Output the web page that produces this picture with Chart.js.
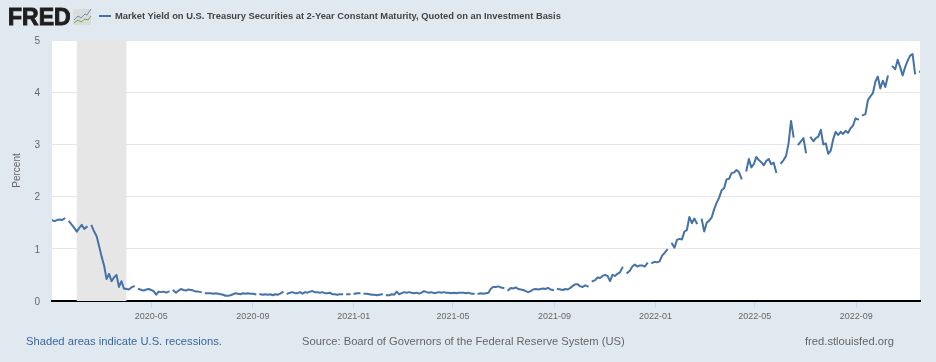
<!DOCTYPE html>
<html>
<head>
<meta charset="utf-8">
<title>Market Yield on U.S. Treasury Securities at 2-Year Constant Maturity</title>
<script src="https://cdn.jsdelivr.net/npm/chart.js@4"></script>
<style>
html, body { margin: 0; padding: 0; background: #e1e9f0; }
body { position: relative; width: 936px; height: 362px; overflow: hidden; font-family: "Liberation Sans", Arial, sans-serif; }
canvas { position: absolute; left: 0; top: 0; }
.abs { position: absolute; white-space: nowrap; }
#logo { left: 8px; top: 2px; font-size: 23px; line-height: 30px; font-weight: bold; color: #1f1d1e; -webkit-text-stroke: 0.9px #1f1d1e; }
#logoIcon { left: 73px; top: 8px; }
#legendLine { left: 99px; top: 15px; width: 12px; height: 2px; background: #4572a7; }
#legendText { left: 115px; top: 10px; font-size: 9.35px; line-height: 13px; font-weight: bold; color: #444; }
.foot { top: 334px; font-size: 11.2px; line-height: 14px; color: #666; }
</style>
</head>
<body>
<canvas id="yieldChart" width="936" height="362"></canvas>
<div class="abs" id="logo">FRED</div>
<svg class="abs" id="logoIcon" width="19" height="18" viewBox="0 0 19 18">
  <rect x="0" y="1" width="18" height="16" rx="1.5" fill="#d9dcdc"/>
  <polyline points="1,12 5,8 8,10 12,6 14,7 18,1" fill="none" stroke="#6f8fb5" stroke-width="1"/>
  <polyline points="1,15 5,12 8,14 12,11 15,12 18,8" fill="none" stroke="#7fa04f" stroke-width="1"/>
</svg>
<div class="abs" id="legendLine"></div>
<div class="abs" id="legendText">Market Yield on U.S. Treasury Securities at 2-Year Constant Maturity, Quoted on an Investment Basis</div>
<div class="abs foot" style="left:26px;color:#3a659f">Shaded areas indicate U.S. recessions.</div>
<div class="abs foot" style="left:302px">Source: Board of Governors of the Federal Reserve System (US)</div>
<div class="abs foot" style="left:805px">fred.stlouisfed.org</div>

<script>
// one reading every 3 days, starting at dataStart. null = gap in the series
const dataStart = '2020-01-02';
const dataEnd = '2022-11-17';
const stepDays = 3;

const yields = [
    1.55, 1.53, 1.55, 1.56, 1.55, 1.58, null, 1.52, 1.46, 1.40,
    1.33, 1.40, 1.46, 1.38, 1.42, null, 1.44, 1.33, 1.24, 1.05,
    0.85, 0.68, 0.42, 0.52, 0.38, 0.45, 0.50, 0.27, 0.38, 0.24,
    0.23, 0.22, 0.26, 0.28, null, 0.23, 0.21, 0.20, 0.22, 0.23,
    0.21, 0.19, 0.12, 0.18, 0.17, 0.18, 0.16, 0.18, null, 0.20,
    0.16, 0.20, 0.23, 0.21, 0.20, 0.22, 0.21, 0.20, 0.18, 0.18,
    0.17, null, 0.15, 0.15, 0.15, 0.14, 0.15, 0.14, 0.13, 0.12,
    0.10, 0.10, 0.11, 0.13, 0.15, 0.14, 0.13, 0.15, 0.14, 0.15,
    0.14, 0.14, 0.13, null, 0.13, 0.12, 0.13, 0.12, 0.13, 0.11,
    0.13, 0.12, 0.14, 0.17, null, 0.14, 0.16, 0.17, 0.15, 0.15,
    0.17, 0.14, 0.17, 0.16, 0.18, 0.19, 0.17, 0.17, 0.16, 0.17,
    0.15, 0.15, 0.16, 0.13, 0.13, 0.12, 0.13, 0.13, null, 0.13,
    0.13, null, 0.14, 0.15, 0.15, null, 0.14, 0.14, 0.13, 0.12,
    0.12, 0.11, 0.12, 0.13, null, 0.11, 0.11, 0.13, 0.12, 0.18,
    0.13, 0.15, 0.17, 0.16, 0.17, 0.16, 0.15, 0.16, 0.14, 0.16,
    0.19, 0.17, 0.16, 0.17, 0.15, 0.16, 0.17, 0.16, 0.17, 0.16,
    0.16, 0.15, 0.16, 0.15, 0.16, 0.16, 0.16, 0.15, 0.16, 0.14,
    0.14, null, 0.14, 0.15, 0.14, 0.15, 0.16, 0.24, 0.27, 0.27,
    0.28, 0.26, 0.25, null, 0.21, 0.25, 0.24, 0.26, 0.23, 0.22,
    0.21, 0.19, 0.17, 0.19, 0.22, 0.23, 0.22, 0.23, 0.24, 0.23,
    0.25, 0.22, 0.21, null, 0.23, 0.22, 0.21, 0.23, 0.22, 0.25,
    0.29, 0.32, 0.32, 0.28, 0.27, 0.30, 0.28, null, 0.38, 0.40,
    0.45, 0.44, 0.48, 0.50, 0.48, 0.38, 0.50, 0.48, 0.52, 0.55,
    0.64, null, 0.54, 0.58, 0.66, 0.70, 0.66, 0.68, 0.68, 0.66,
    0.72, null, 0.73, 0.75, 0.74, 0.76, 0.87, 0.92, 0.98, null,
    1.10, 1.02, 1.17, 1.19, 1.18, 1.33, 1.36, 1.61, 1.49, 1.58,
    1.49, null, 1.56, 1.33, 1.50, 1.54, 1.60, 1.76, 1.88, 1.98,
    2.12, 2.16, 2.33, 2.34, 2.45, 2.46, 2.51, 2.47, 2.35, null,
    2.50, 2.72, 2.56, 2.62, 2.76, 2.70, 2.66, 2.60, 2.68, 2.72,
    2.62, 2.65, 2.47, null, 2.64, 2.70, 2.78, 3.02, 3.45, 3.15,
    null, 3.00, 3.06, 3.12, 2.85, null, 3.13, 3.06, 3.12, 3.15,
    3.28, 3.00, 3.02, 2.82, 2.88, 3.10, 3.24, 3.18, 3.24, 3.20,
    3.26, 3.22, 3.31, 3.36, 3.50, 3.48, null, 3.56, 3.58, 3.85,
    3.92, 3.98, 4.20, 4.30, 4.07, 4.22, 4.10, 4.30, null, 4.49,
    4.44, 4.62, 4.48, 4.32, 4.48, 4.60, 4.70, 4.73, 4.36, null,
    4.39, 4.36
];

const xTickLabels = ['2020-05', '2020-09', '2021-01', '2021-05', '2021-09', '2022-01', '2022-05', '2022-09'];
const yTickValues = [0, 1, 2, 3, 4, 5];
const recessionStart = '2020-02-01';
const recessionEnd = '2020-04-01';

function daysFromStart(date) {
    return (Date.parse(date) - Date.parse(dataStart)) / 86400000;
}

const xTickDays = xTickLabels.map(label => daysFromStart(label + '-01'));
const yieldPoints = yields.map((value, i) => ({ x: i * stepDays, y: value }));

// white plot area and the grey recession band behind the line
const plotBackground = {
    id: 'plotBackground',
    beforeDraw(chart) {
        const area = chart.chartArea;
        chart.ctx.save();
        chart.ctx.fillStyle = '#ffffff';
        chart.ctx.fillRect(area.left, area.top, area.right - area.left, area.bottom - area.top);
        chart.ctx.restore();
    },
    beforeDatasetsDraw(chart) {
        const area = chart.chartArea;
        const x0 = chart.scales.x.getPixelForValue(daysFromStart(recessionStart));
        const x1 = chart.scales.x.getPixelForValue(daysFromStart(recessionEnd));
        chart.ctx.save();
        chart.ctx.fillStyle = '#e6e6e6';
        chart.ctx.fillRect(x0, area.top, x1 - x0, area.bottom - area.top);
        chart.ctx.restore();
    }
};

const yieldChart = new Chart(document.getElementById('yieldChart'), {
    type: 'line',
    data: {
        datasets: [{
            label: 'Market Yield on U.S. Treasury Securities at 2-Year Constant Maturity, Quoted on an Investment Basis',
            data: yieldPoints,
            borderColor: '#4572a7',
            borderWidth: 2,
            borderCapStyle: 'square',
            borderJoinStyle: 'round',
            pointRadius: 0,
            tension: 0,
            spanGaps: false
        }]
    },
    options: {
        responsive: false,
        animation: false,
        layout: { padding: { top: 40, right: 16, bottom: 0, left: 0 } },
        plugins: {
            legend: { display: false },
            tooltip: { enabled: false }
        },
        scales: {
            x: {
                type: 'linear',
                min: 0,
                max: daysFromStart(dataEnd),
                afterFit(scale) { scale.height = 61; },
                afterBuildTicks(scale) { scale.ticks = xTickDays.map(value => ({ value: value })); },
                grid: { drawOnChartArea: false, color: '#ccd6eb', tickLength: 7 },
                border: { display: true, color: '#000000', width: 2 },
                ticks: {
                    autoSkip: false,
                    maxRotation: 0,
                    padding: 3,
                    color: '#666666',
                    font: { family: '"Liberation Sans", Arial, sans-serif', size: 9 }
                    ,
                    callback: value => xTickLabels[xTickDays.indexOf(value)]
                }
            },
            y: {
                min: 0,
                max: 5,
                afterFit(scale) { scale.width = 52; },
                afterBuildTicks(scale) { scale.ticks = yTickValues.map(value => ({ value: value })); },
                title: {
                    display: true,
                    text: 'Percent',
                    color: '#666666',
                    padding: { top: 11, bottom: 0 },
                    font: { family: '"Liberation Sans", Arial, sans-serif', size: 10 }
                },
                grid: { color: '#e6e6e6', drawTicks: false, tickLength: 0 },
                border: { display: false },
                ticks: {
                    padding: 12,
                    labelOffset: 1,
                    color: '#666666',
                    font: { family: '"Liberation Sans", Arial, sans-serif', size: 10 }
                }
            }
        }
    },
    plugins: [plotBackground]
});
</script>
</body>
</html>
